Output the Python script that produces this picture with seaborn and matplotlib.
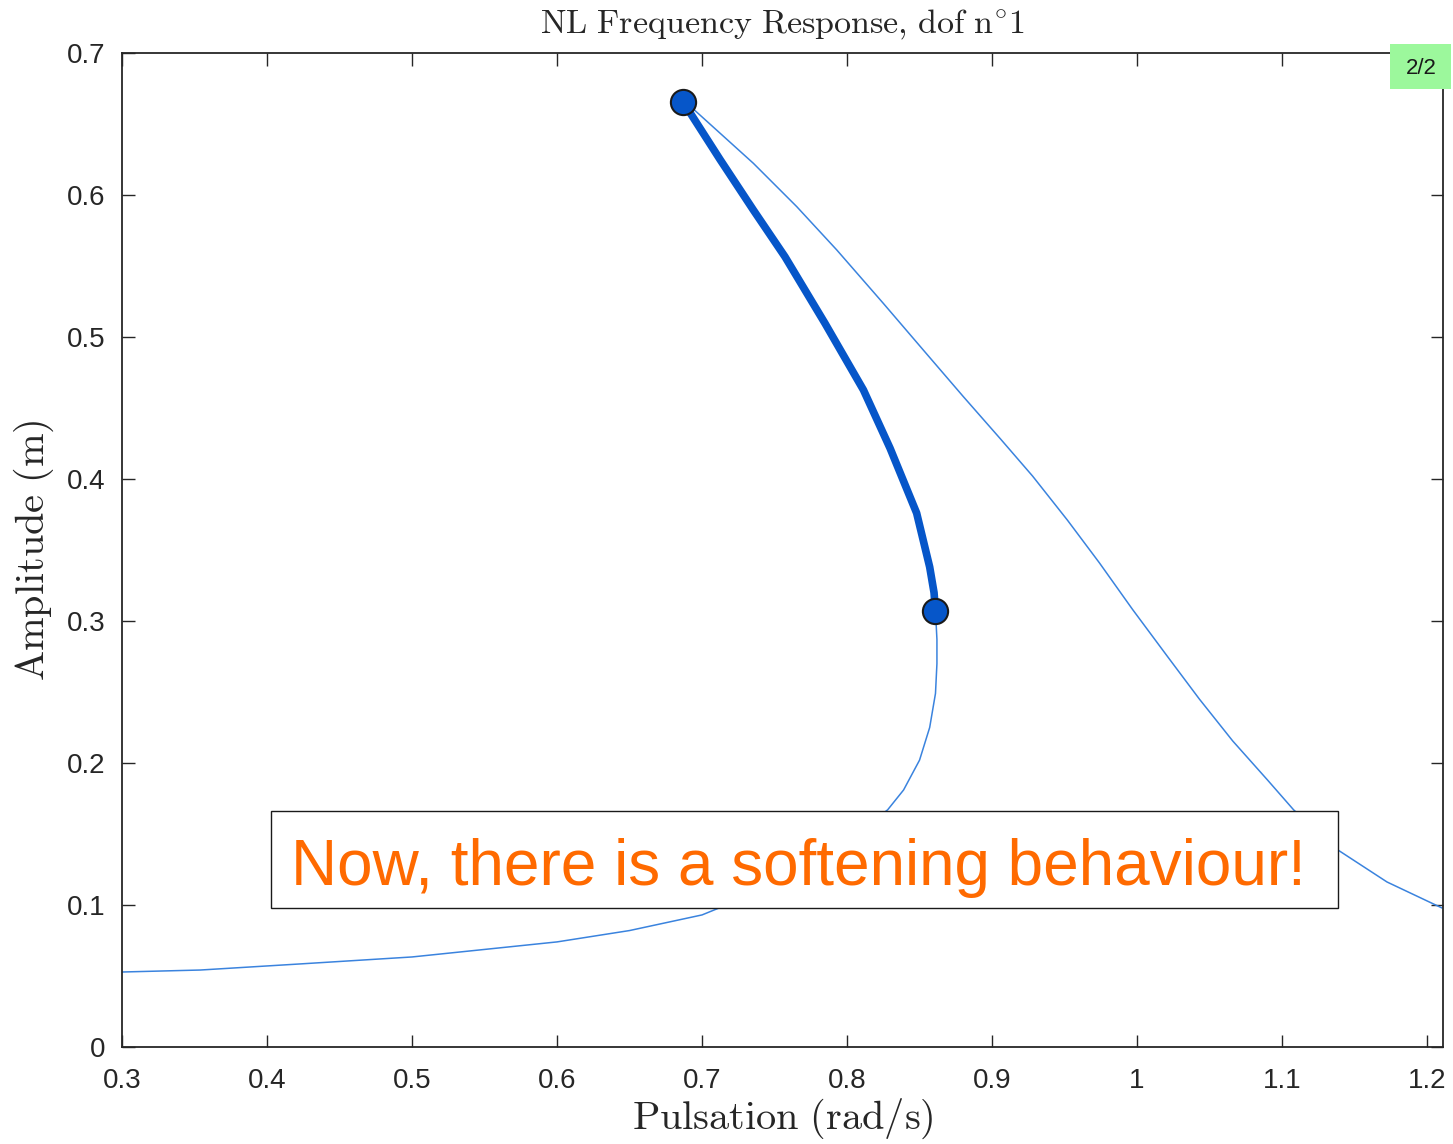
import matplotlib
matplotlib.use("Agg")
import matplotlib.pyplot as plt
from matplotlib.patches import Rectangle
import seaborn as sns
import pandas as pd

# ---- data ----
lower_w = [0.300, 0.354, 0.423, 0.500, 0.600, 0.650, 0.700, 0.712, 0.760, 0.800,
           0.828, 0.839, 0.850, 0.857, 0.861, 0.862, 0.862, 0.861]
lower_a = [0.0528, 0.0542, 0.0585, 0.0634, 0.0740, 0.0820, 0.0930, 0.0980, 0.1180, 0.1450,
           0.167, 0.181, 0.202, 0.225, 0.249, 0.270, 0.287, 0.307]

unstable_w = [0.861, 0.860, 0.857, 0.848, 0.8297, 0.8113, 0.7848, 0.7572, 0.7354, 0.7124, 0.687]
unstable_a = [0.307, 0.320, 0.338, 0.376, 0.4216, 0.4627, 0.5096, 0.5565, 0.5894, 0.6250, 0.6655]

upper_w = [0.687, 0.6952, 0.7354, 0.7653, 0.7929, 0.8250, 0.8526, 0.8802, 0.906, 0.928,
           0.952, 0.974, 0.997, 1.021, 1.043, 1.066, 1.090, 1.108, 1.1386, 1.1724, 1.2103]
upper_a = [0.6655, 0.6594, 0.6223, 0.5918, 0.5613, 0.5237, 0.4908, 0.4580, 0.428, 0.402,
           0.371, 0.341, 0.308, 0.275, 0.245, 0.2155, 0.188, 0.167, 0.1387, 0.1162, 0.0979]

fold_w = [0.687, 0.861]
fold_a = [0.6655, 0.307]

x_ticks = [0.3, 0.4, 0.5, 0.6, 0.7, 0.8, 0.9, 1.0, 1.1, 1.2]
x_tick_labels = ["0.3", "0.4", "0.5", "0.6", "0.7", "0.8", "0.9", "1", "1.1", "1.2"]
y_ticks = [0, 0.1, 0.2, 0.3, 0.4, 0.5, 0.6, 0.7]
y_tick_labels = ["0", "0.1", "0.2", "0.3", "0.4", "0.5", "0.6", "0.7"]

title = r"$\mathrm{NL\ Frequency\ Response{,}\ dof\ n^{\circ}1}$"
xlabel = r"$\mathrm{Pulsation\ (rad/s)}$"
ylabel = r"$\mathrm{Amplitude\ (m)}$"
note = "Now, there is a softening behaviour!"
page = "2/2"

# ---- plotting ----
sns.set_theme(style="white")
plt.rcParams["font.family"] = ["Liberation Sans", "DejaVu Sans"]
plt.rcParams["mathtext.fontset"] = "cm"

fig = plt.figure(figsize=(14.53, 11.44), dpi=100)
ax = fig.add_axes([0.084, 0.0848, 0.9091, 0.8689])

thin_color = "#3a83de"
thick_color = "#0656c9"

df_low = pd.DataFrame({"w": lower_w, "a": lower_a})
df_unst = pd.DataFrame({"w": unstable_w, "a": unstable_a})
df_up = pd.DataFrame({"w": upper_w, "a": upper_a})
df_fold = pd.DataFrame({"w": fold_w, "a": fold_a})

sns.lineplot(data=df_low, x="w", y="a", sort=False, estimator=None, ax=ax,
             color=thin_color, linewidth=1.1, zorder=2)
sns.lineplot(data=df_up, x="w", y="a", sort=False, estimator=None, ax=ax,
             color=thin_color, linewidth=1.1, zorder=2)
sns.lineplot(data=df_unst, x="w", y="a", sort=False, estimator=None, ax=ax,
             color=thick_color, linewidth=5.5, zorder=3, solid_capstyle="round",
             solid_joinstyle="round")
sns.scatterplot(data=df_fold, x="w", y="a", ax=ax, s=330, color=thick_color,
                edgecolor="#1a1a1a", linewidth=1.5, zorder=4)

ax.set_xlim(0.3, 1.211)
ax.set_ylim(0, 0.7)
ax.set_xticks(x_ticks)
ax.set_xticklabels(x_tick_labels)
ax.set_yticks(y_ticks)
ax.set_yticklabels(y_tick_labels)
ax.tick_params(axis="both", which="both", direction="in", length=9, width=1.0,
               color="#262626", labelsize=20, labelcolor="#262626",
               top=True, right=True, bottom=True, left=True)
ax.tick_params(axis="x", pad=15)
ax.tick_params(axis="y", pad=12)
for sp in ax.spines.values():
    sp.set_visible(True)
    sp.set_color("#262626")
    sp.set_linewidth(1.3)

ax.set_title(title, fontsize=24.5, color="#262626", y=1.0201, pad=0)
ax.set_xlabel(xlabel, fontsize=29, color="#262626", labelpad=2)
ax.set_ylabel(ylabel, fontsize=29, color="#262626", labelpad=8)

# annotation box (drawn in data coordinates)
ax.add_patch(Rectangle((0.4028, 0.0979), 1.1386 - 0.4028, 0.1662 - 0.0979,
                       facecolor="white", edgecolor="#1a1a1a", linewidth=1.0, zorder=5))
ax.text(0.7662, 0.1141, note, ha="center", va="baseline", fontsize=46,
        color="#ff6a00", family=["Liberation Sans", "DejaVu Sans"], zorder=6)

# page marker
fig.patches.append(Rectangle((1390 / 1453, 1 - 89 / 1144), 61 / 1453, 45 / 1144,
                             transform=fig.transFigure, facecolor="#9cf89c",
                             edgecolor="none", zorder=10))
fig.text(1421 / 1453, 1 - 68 / 1144, page, ha="center", va="center", fontsize=16,
         color="#1a1a1a", zorder=11)

fig.savefig("out.png", dpi=100)
